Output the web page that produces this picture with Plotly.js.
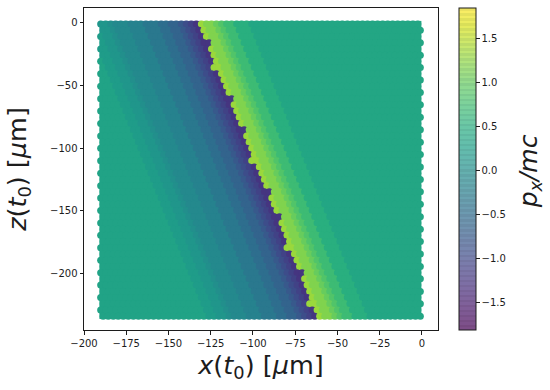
<!DOCTYPE html>
<html>
<head>
<meta charset="utf-8">
<script src="https://cdn.plot.ly/plotly-3.0.1.min.js"></script>
<style>html,body{margin:0;padding:0;background:#fff}</style>
</head>
<body>
<div id="chart" style="width:550px;height:390px"></div>
<script>
// Sampling positions across the picture (micrometres)
var xGrid = [-189.4,-186.4,-183.4,-180.5,-177.5,-174.5,-171.5,-168.5,-165.6,-162.6,-159.6,-156.6,-153.6,-150.7,-147.7,-144.7,-141.7,-138.7,-135.8,-132.8,-129.8,-126.8,-123.8,-120.9,-117.9,-114.9,-111.9,-108.9,-106.0,-103.0,-100.0,-97.0,-94.0,-91.1,-88.1,-85.1,-82.1,-79.1,-76.2,-73.2,-70.2,-67.2,-64.2,-61.3,-58.3,-55.3,-52.3,-49.3,-46.4,-43.4,-40.4,-37.4,-34.4,-31.5,-28.5,-25.5,-22.5,-19.5,-16.6,-13.6,-10.6,-7.6,-4.6,-1.7];
var zGrid = [-1.0,-6.0,-10.9,-15.9,-20.8,-25.8,-30.7,-35.7,-40.7,-45.6,-50.6,-55.5,-60.5,-65.4,-70.4,-75.4,-80.3,-85.3,-90.2,-95.2,-100.1,-105.1,-110.1,-115.0,-120.0,-124.9,-129.9,-134.8,-139.8,-144.8,-149.7,-154.7,-159.6,-164.6,-169.5,-174.5,-179.5,-184.4,-189.4,-194.3,-199.3,-204.2,-209.2,-214.2,-219.1,-224.1,-229.0,-234.0];
// p_x/mc value of each letter used in the rows below
var pxLevels = {A:-1.25,B:-1.1,C:-0.95,D:-0.8,E:-0.65,F:-0.5,G:-0.35,H:-0.2,I:-0.1,J:0.0,K:0.1,L:0.2,M:0.3,N:0.36,O:0.5,P:0.7,Q:0.85,R:1.0,S:1.15,T:1.3};
// One string per z row, one letter per x column
var pxRows = [
"KKJIIIHHHGGGFFEEDCBATSSRQPPOOONNNNNNNNNNNNNNNNNNNNNNNNNNNNNNNNNN",
"KKJIIIHHHGGGFFEEDCBATSSRQPPOOONNNNNNNNNNNNNNNNNNNNNNNNNNNNNNNNNN",
"LKKJIIIHHHGGGFFEEDCBATSSRQPPOOONNNNNNNNNNNNNNNNNNNNNNNNNNNNNNNNN",
"LKKJIIIHHHGGGFFEEDCBAASSRQPPOOONNNNNNNNNNNNNNNNNNNNNNNNNNNNNNNNN",
"LLKKJIIIHHHGGGFFEEDCBATSSRQPPOOONNNNNNNNNNNNNNNNNNNNNNNNNNNNNNNN",
"LLKKJIIIHHHGGGFFEEDCBATSSRQPPOOONNNNNNNNNNNNNNNNNNNNNNNNNNNNNNNN",
"MLLKKJIIIHHHGGGFFEEDCBATSSRQPPOOONNNNNNNNNNNNNNNNNNNNNNNNNNNNNNN",
"MLLKKJIIIHHHGGGFFEEDCBTTSSRQPPOOONNNNNNNNNNNNNNNNNNNNNNNNNNNNNNN",
"MMLLKKJIIIHHHGGGFFEEDCBATSSRQPPOOONNNNNNNNNNNNNNNNNNNNNNNNNNNNNN",
"MMLLKKJIIIHHHGGGFFEEDCBATSSRQPPOOONNNNNNNNNNNNNNNNNNNNNNNNNNNNNN",
"MMMLLKKJIIIHHHGGGFFEEDCBATSSRQPPOOONNNNNNNNNNNNNNNNNNNNNNNNNNNNN",
"MMMLLKKJIIIHHHGGGFFEEDCBATSSRQPPOOONNNNNNNNNNNNNNNNNNNNNNNNNNNNN",
"MMMMLLKKJIIIHHHGGGFFEEDCBAASSRQPPOOONNNNNNNNNNNNNNNNNNNNNNNNNNNN",
"MMMMLLKKJIIIHHHGGGFFEEDCBATSSRQPPOOONNNNNNNNNNNNNNNNNNNNNNNNNNNN",
"MMMMMLLKKJIIIHHHGGGFFEEDCBATSSRQPPOOONNNNNNNNNNNNNNNNNNNNNNNNNNN",
"MMMMMLLKKJIIIHHHGGGFFEEDCBATSSRQPPOOONNNNNNNNNNNNNNNNNNNNNNNNNNN",
"MMMMMMLLKKJIIIHHHGGGFFEEDCBATSSRQPPOOONNNNNNNNNNNNNNNNNNNNNNNNNN",
"MMMMMMLLKKJIIIHHHGGGFFEEDCBAASSRQPPOOONNNNNNNNNNNNNNNNNNNNNNNNNN",
"MMMMMMMLLKKJIIIHHHGGGFFEEDCBATSSRQPPOOONNNNNNNNNNNNNNNNNNNNNNNNN",
"MMMMMMMLLKKJIIIHHHGGGFFEEDCBATSSRQPPOOONNNNNNNNNNNNNNNNNNNNNNNNN",
"MMMMMMMMLLKKJIIIHHHGGGFFEEDCBATSSRQPPOOONNNNNNNNNNNNNNNNNNNNNNNN",
"MMMMMMMMLLKKJIIIHHHGGGFFEEDCBATSSRQPPOOONNNNNNNNNNNNNNNNNNNNNNNN",
"MMMMMMMMMLLKKJIIIHHHGGGFFEEDCBTTSSRQPPOOONNNNNNNNNNNNNNNNNNNNNNN",
"MMMMMMMMMLLKKJIIIHHHGGGFFEEDCBATSSRQPPOOONNNNNNNNNNNNNNNNNNNNNNN",
"MMMMMMMMMMLLKKJIIIHHHGGGFFEEDCBATSSRQPPOOONNNNNNNNNNNNNNNNNNNNNN",
"MMMMMMMMMMLLKKJIIIHHHGGGFFEEDCBATSSRQPPOOONNNNNNNNNNNNNNNNNNNNNN",
"MMMMMMMMMMMLLKKJIIIHHHGGGFFEEDCBATSSRQPPOOONNNNNNNNNNNNNNNNNNNNN",
"MMMMMMMMMMMLLKKJIIIHHHGGGFFEEDCBAASSRQPPOOONNNNNNNNNNNNNNNNNNNNN",
"MMMMMMMMMMMMLLKKJIIIHHHGGGFFEEDCBATSSRQPPOOONNNNNNNNNNNNNNNNNNNN",
"MMMMMMMMMMMMLLKKJIIIHHHGGGFFEEDCBATSSRQPPOOONNNNNNNNNNNNNNNNNNNN",
"MMMMMMMMMMMMMLLKKJIIIHHHGGGFFEEDCBATSSRQPPOOONNNNNNNNNNNNNNNNNNN",
"MMMMMMMMMMMMMLLKKJIIIHHHGGGFFEEDCBAASSRQPPOOONNNNNNNNNNNNNNNNNNN",
"MMMMMMMMMMMMMMLLKKJIIIHHHGGGFFEEDCBATSSRQPPOOONNNNNNNNNNNNNNNNNN",
"MMMMMMMMMMMMMMLLKKJIIIHHHGGGFFEEDCBATSSRQPPOOONNNNNNNNNNNNNNNNNN",
"MMMMMMMMMMMMMMMLLKKJIIIHHHGGGFFEEDCBATSSRQPPOOONNNNNNNNNNNNNNNNN",
"MMMMMMMMMMMMMMMLLKKJIIIHHHGGGFFEEDCBATSSRQPPOOONNNNNNNNNNNNNNNNN",
"MMMMMMMMMMMMMMMMLLKKJIIIHHHGGGFFEEDCBTTSSRQPPOOONNNNNNNNNNNNNNNN",
"MMMMMMMMMMMMMMMMLLKKJIIIHHHGGGFFEEDCBATSSRQPPOOONNNNNNNNNNNNNNNN",
"MMMMMMMMMMMMMMMMMLLKKJIIIHHHGGGFFEEDCBATSSRQPPOOONNNNNNNNNNNNNNN",
"MMMMMMMMMMMMMMMMMLLKKJIIIHHHGGGFFEEDCBATSSRQPPOOONNNNNNNNNNNNNNN",
"MMMMMMMMMMMMMMMMMMLLKKJIIIHHHGGGFFEEDCBAASSRQPPOOONNNNNNNNNNNNNN",
"MMMMMMMMMMMMMMMMMMLLKKJIIIHHHGGGFFEEDCBATSSRQPPOOONNNNNNNNNNNNNN",
"MMMMMMMMMMMMMMMMMMMLLKKJIIIHHHGGGFFEEDCBATSSRQPPOOONNNNNNNNNNNNN",
"MMMMMMMMMMMMMMMMMMMLLKKJIIIHHHGGGFFEEDCBATSSRQPPOOONNNNNNNNNNNNN",
"MMMMMMMMMMMMMMMMMMMMLLKKJIIIHHHGGGFFEEDCBATSSRQPPOOONNNNNNNNNNNN",
"MMMMMMMMMMMMMMMMMMMMLLKKJIIIHHHGGGFFEEDCBTTSSRQPPOOONNNNNNNNNNNN",
"MMMMMMMMMMMMMMMMMMMMMLLKKJIIIHHHGGGFFEEDCBATSSRQPPOOONNNNNNNNNNN",
"MMMMMMMMMMMMMMMMMMMMMLLKKJIIIHHHGGGFFEEDCBATSSRQPPOOONNNNNNNNNNN"
];
var pxRange = [-1.81, 1.85];
var rowStagger = 0.75;
var xTicks = [-200,-175,-150,-125,-100,-75,-50,-25,0];
var zTicks = [0,-50,-100,-150,-200];
var barTicks = [-1.5,-1,-0.5,0,0.5,1,1.5];
// Colour bar colours (viridis seen through the transparency of the reference)
var barColors = [[124,77,135],[127,93,151],[126,108,163],[123,121,170],[118,134,174],[112,146,175],[107,156,176],[103,168,176],[100,178,175],[98,189,172],[105,198,166],[121,208,157],[142,217,145],[169,225,129],[198,231,110],[228,235,94],[254,238,102]];

var xs = [], zs = [], vals = [], matrix = [];
pxRows.forEach(function (row, r) {
  var line = [];
  for (var c = 0; c < row.length; c++) {
    xs.push(xGrid[c] + (r % 2 ? rowStagger : -rowStagger)); zs.push(zGrid[r]); vals.push(pxLevels[row[c]]);
    line.push(pxLevels[row[c]]);
  }
  matrix.push(line);
});

function colorAt(t, dim) {
  var p = t * (barColors.length - 1), i = Math.min(Math.floor(p), barColors.length - 2), f = p - i;
  return 'rgb(' + [0,1,2].map(function (k) {
    return Math.round((barColors[i][k] + (barColors[i+1][k] - barColors[i][k]) * f) * dim);
  }).join(',') + ')';
}
var stripes = 64, barScale = [];
for (var s = 0; s < stripes; s++) {
  var a = s / stripes, b = (s + 0.5) / stripes, e = (s + 1) / stripes;
  barScale.push([a, colorAt(a, 1)], [b, colorAt(a, 1)], [b, colorAt(a, 0.95)], [e, colorAt(a, 0.95)]);
}

var fontFam = '"DejaVu Sans", sans-serif', ink = '#1c1c1c';
var traces = [
  { type:'heatmap', x:xGrid, y:zGrid, z:matrix, zmin:pxRange[0], zmax:pxRange[1], colorscale:'Viridis', showscale:false, hoverinfo:'skip' },
  { type:'scatter', mode:'markers', x:xs, y:zs, hoverinfo:'skip', showlegend:false,
    marker:{ size:7, color:vals, cmin:pxRange[0], cmax:pxRange[1], colorscale:'Viridis', showscale:false, line:{width:0} } },
  { type:'scatter', mode:'markers', x:[-500,-500], y:[0,0], hoverinfo:'skip', showlegend:false,
    marker:{ size:1, color:pxRange, cmin:pxRange[0], cmax:pxRange[1], colorscale:barScale, showscale:true,
      colorbar:{ x:1.06, xanchor:'left', xpad:0, y:0, yanchor:'bottom', ypad:0, len:1, lenmode:'fraction',
        thickness:16.5, thicknessmode:'pixels', outlinewidth:1, outlinecolor:ink,
        ticks:'outside', ticklen:3.5, tickwidth:1, tickcolor:ink, tickvals:barTicks,
        ticktext:['\u22121.5','\u22121.0','\u22120.5','0.0','0.5','1.0','1.5'],
        tickfont:{family:fontFam,size:10,color:ink} } } }
];
var axisBase = { showgrid:false, zeroline:false, showline:true, mirror:true, linecolor:ink, linewidth:1,
  ticks:'outside', ticklen:3.5, tickwidth:1, tickcolor:ink, tickfont:{family:fontFam,size:10,color:ink} };
var layout = {
  width:550, height:390, paper_bgcolor:'#fff', plot_bgcolor:'#fff',
  margin:{l:84,r:112,t:8,b:60,pad:0}, showlegend:false,
  xaxis:Object.assign({}, axisBase, { range:[-200,9.5], tickvals:xTicks, automargin:false,
    title:{ text:'<i>x</i>(<i>t</i><sub>0</sub>) [<i>\u03bc</i>m]', standoff:8, font:{family:fontFam,size:25.5,color:ink} } }),
  yaxis:Object.assign({}, axisBase, { range:[-245,11.8], tickvals:zTicks, automargin:false,
    title:{ text:'<i>z</i>(<i>t</i><sub>0</sub>) [<i>\u03bc</i>m]', standoff:16, font:{family:fontFam,size:25.5,color:ink} } }),
  annotations:[{ xref:'paper', yref:'paper', x:1.31, y:0.492, showarrow:false, textangle:-90,
    text:'<i>p<sub>x</sub>/mc</i>', font:{family:fontFam,size:25,color:ink} }]
};
Plotly.newPlot('chart', traces, layout, {displayModeBar:false, staticPlot:true});
</script>
</body>
</html>
